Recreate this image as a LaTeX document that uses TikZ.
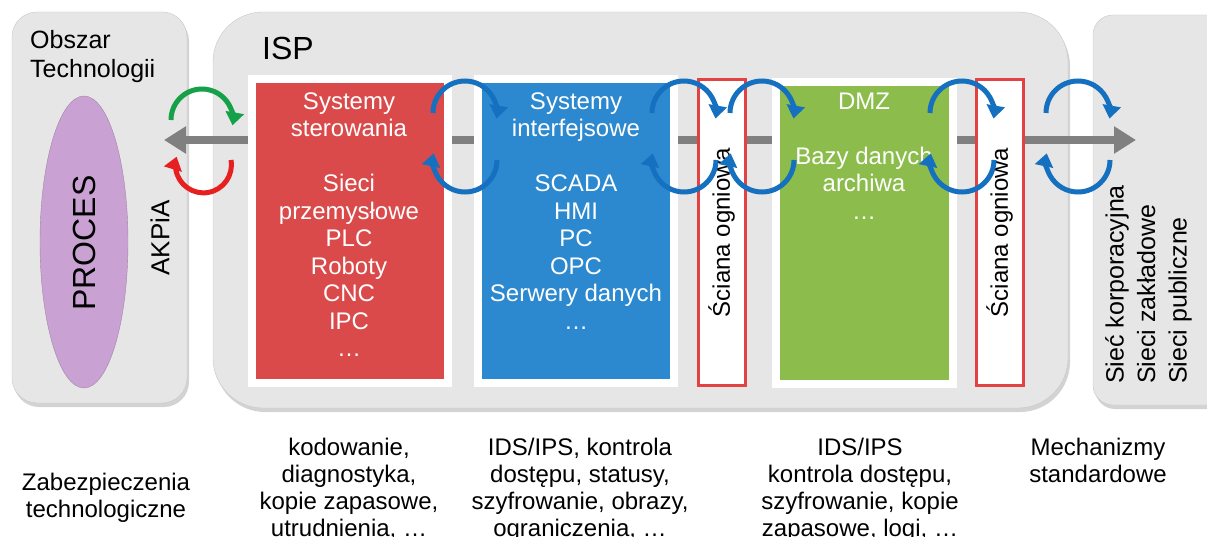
\documentclass[tikz,border=0pt]{standalone}
\usepackage{fontspec}
\setmainfont{Liberation Sans}
\usetikzlibrary{shapes.geometric, shadows, arrows.meta}

\definecolor{panelgray}{RGB}{230,230,230}
\definecolor{ctrlred}{RGB}{218,74,74}
\definecolor{ifblue}{RGB}{44,137,207}
\definecolor{dmzgreen}{RGB}{140,189,76}
\definecolor{procpurple}{RGB}{201,162,211}
\definecolor{wallred}{RGB}{226,66,66}
\definecolor{arcblue}{RGB}{22,112,192}
\definecolor{arcgreen}{RGB}{22,160,72}
\definecolor{arcred}{RGB}{230,32,32}

\begin{document}
\begin{tikzpicture}[
        x=1pt, y=-1pt,
        panel/.style={draw=black!22, fill=panelgray, inner sep=0,
            drop shadow={opacity=0.35, shadow xshift=2pt, shadow yshift=-4pt}},
        sysbox/.style={draw=white, line width=8pt, inner sep=0, minimum height=304pt,
            drop shadow={opacity=0.25, shadow xshift=2pt, shadow yshift=-4pt}},
        wall/.style={draw=wallred, line width=3pt, fill=white, inner sep=0,
            minimum width=47pt, minimum height=305pt},
        txt/.style={font=\fontsize{24}{27.5}\selectfont, align=center, inner sep=0},
        boxtxt/.style={txt, text=white, anchor=north},
        undertxt/.style={txt, font=\fontsize{24}{27}\selectfont, anchor=north},
        vtxt/.style={txt, rotate=90},
        cyc/.style={line width=5pt, -{Triangle[length=13pt, width=18pt]}},
        flow/.style={line width=8pt, draw=gray,
            {Triangle[length=22pt, width=26pt]}-{Triangle[length=22pt, width=26pt]}}
    ]
    \useasboundingbox (0,0) rectangle (1207,537);

    \node[panel, rounded corners=25pt, minimum width=175pt, minimum height=391pt] (tech) at (99.5,207.5) {};
    \node[panel, rounded corners=50pt, minimum width=855pt, minimum height=396pt] (isp) at (640.5,210) {};
    \node[panel, rounded corners=20pt, minimum width=147pt, minimum height=390pt] (net) at (1166.5,210) {};

    \node[txt, font=\fontsize{25}{29}\selectfont, align=left, anchor=north west] (techname) at (30,30) {Obszar\\Technologii};
    \node[txt, font=\fontsize{32}{36}\selectfont, anchor=base west] (ispname) at (262,60) {ISP};
    \node[ellipse, fill=procpurple, draw=procpurple!80!black, minimum width=88pt, minimum height=292pt] (proc) at (84,242) {};
    \node[vtxt, font=\fontsize{32}{36}\selectfont] (proctext) at (84,243) {PROCES};
    \node[vtxt, font=\fontsize{26}{30}\selectfont] (akpia) at (160,238) {AKPiA};

    \coordinate (left) at (164,140);
    \coordinate (right) at (1136,140);
    \draw[flow] (left) -- (right);

    \node[sysbox, fill=ctrlred, minimum width=196pt] (ctrl) at (350,231) {};
    \node[sysbox, fill=ifblue, minimum width=196pt] (iface) at (575.5,231) {};
    \node[sysbox, fill=dmzgreen, minimum width=177pt, minimum height=302pt] (dmz) at (864,233) {};
    \node[wall] (wall1) at (721.5,232.5) {};
    \node[wall] (wall2) at (999.5,232.5) {};

    \node[boxtxt] (ctrltext) at (349,92.5) {Systemy\\sterowania\\[27.5pt]Sieci\\przemysłowe\\PLC\\Roboty\\CNC\\IPC\\…};
    \node[boxtxt] (ifacetext) at (576,92.5) {Systemy\\interfejsowe\\[27.5pt]SCADA\\HMI\\PC\\OPC\\Serwery danych\\…};
    \node[boxtxt] (dmztext) at (864,92.5) {DMZ\\[27.5pt]Bazy danych\\archiwa\\…};
    \node[vtxt] (wall1text) at (wall1) {Ściana ogniowa};
    \node[vtxt] (wall2text) at (wall2) {Ściana ogniowa};
    \node[txt, font=\fontsize{25}{31.5}\selectfont, align=left, rotate=90, anchor=north west] (nettext) at (1105,384) {Sieć korporacyjna\\Sieci zakładowe\\Sieci publiczne};

    \coordinate (gup) at (171,120);
    \coordinate (rdn) at (231,160);
    \draw[cyc, draw=arcgreen] (gup) arc[start angle=180, end angle=370, radius=31];
    \draw[cyc, draw=arcred] (rdn) arc[start angle=-10, end angle=197, radius=28];

    \foreach \cx [count=\i] in {465,684,762,962,1078} {
        \coordinate (up\i) at (\cx-32,113);
        \coordinate (dn\i) at (\cx+32,160);
        \draw[cyc, draw=arcblue] (up\i) arc[start angle=180, end angle=370, radius=32];
        \draw[cyc, draw=arcblue] (dn\i) arc[start angle=0, end angle=192, radius=32];
    }

    \node[undertxt] (techsec) at (106,473) {Zabezpieczenia\\technologiczne};
    \node[undertxt] (ctrlsec) at (349,437.5) {kodowanie,\\diagnostyka,\\kopie zapasowe,\\utrudnienia, …};
    \node[undertxt] (ifacesec) at (580,437.5) {IDS/IPS, kontrola\\dostępu, statusy,\\szyfrowanie, obrazy,\\ograniczenia, …};
    \node[undertxt] (dmzsec) at (860,437.5) {IDS/IPS\\kontrola dostępu,\\szyfrowanie, kopie\\zapasowe, logi, …};
    \node[undertxt] (netsec) at (1098,437.5) {Mechanizmy\\standardowe};
\end{tikzpicture}
\end{document}
